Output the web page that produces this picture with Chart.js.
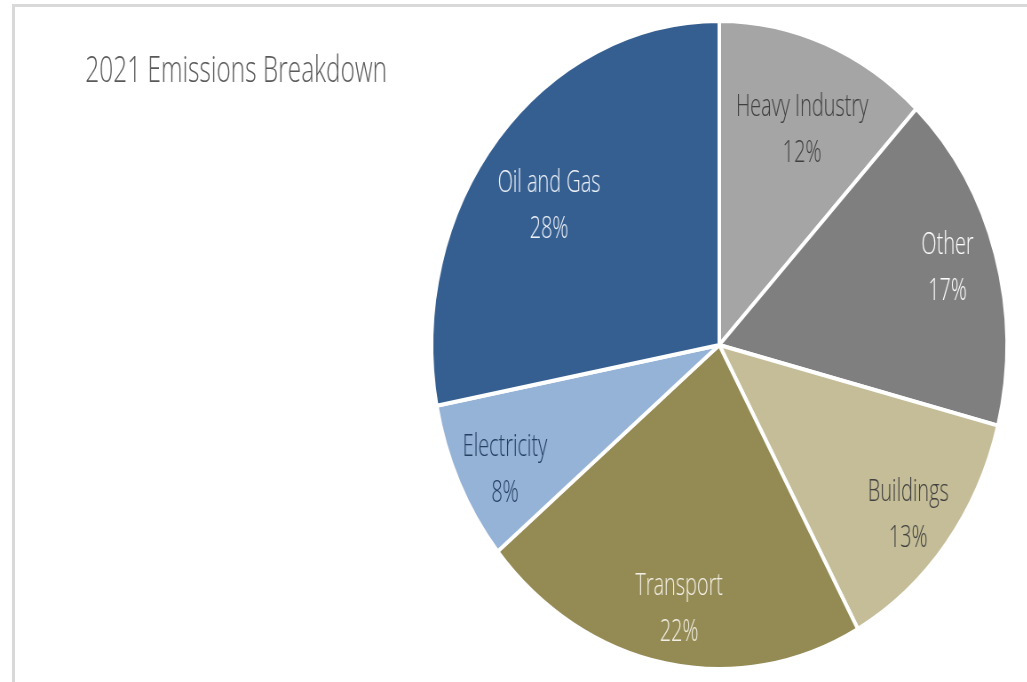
<!DOCTYPE html>
<html>
<head>
<meta charset="utf-8">
<script src="https://cdn.jsdelivr.net/npm/chart.js@4"></script>
<style>
  html, body { margin: 0; padding: 0; background: #fff; overflow: hidden; }
  #frame {
    position: absolute; left: 12px; top: 4px; width: 1100px; height: 800px;
    border-left: 3px solid #d9d9d9; border-top: 3px solid #d9d9d9;
  }
  /* the source picture is squeezed sideways, so the pie is an ellipse */
  #emissionsChart {
    position: absolute; left: 0; top: 0;
    transform: scaleX(0.888); transform-origin: 0 0;
  }
</style>
</head>
<body>
<div id="frame"></div>
<canvas id="emissionsChart" width="1157" height="682"></canvas>
<script>
const chartTitle = '2021 Emissions Breakdown';
const categories = ['Heavy Industry', 'Other', 'Buildings', 'Transport', 'Electricity', 'Oil and Gas'];
const shares = [12, 17, 13, 22, 8, 28];

const sliceColors = ['#a5a5a5', '#7f7f7f', '#c4bd97', '#948a54', '#95b3d7', '#365f91'];
const labelColors = ['#404040', '#ffffff', '#404040', '#f2efe4', '#243f60', '#eef2f7'];
// label placement: fraction of radius and a small turn (degrees) off the slice middle
const labelRadius = [0.73, 0.83, 0.836, 0.82, 0.836, 0.735];
const labelTurn = [1.6, -0.9, 0.4, -1, -1.8, -3.2];

const FONT = '"Open Sans", "Noto Sans", sans-serif';
const SQUEEZE = 0.7; // condensed look of the text
const LINE_GAP = 46;

const sliceLabels = {
    id: 'sliceLabels',
    afterDatasetsDraw(chart) {
        const ctx = chart.ctx;
        const meta = chart.getDatasetMeta(0);
        ctx.save();
        ctx.font = '300 32px ' + FONT;
        ctx.textAlign = 'center';
        ctx.textBaseline = 'alphabetic';
        meta.data.forEach((arc, i) => {
            const p = arc.getProps(['x', 'y', 'startAngle', 'endAngle', 'outerRadius'], true);
            const mid = (p.startAngle + p.endAngle) / 2 + labelTurn[i] * Math.PI / 180;
            const r = p.outerRadius * labelRadius[i];
            const cx = p.x + Math.cos(mid) * r;
            const cy = p.y + Math.sin(mid) * r;
            ctx.fillStyle = labelColors[i];
            ctx.save();
            ctx.translate(cx, cy);
            ctx.scale(SQUEEZE, 1);
            ctx.fillText(chart.data.labels[i], 0, 11.5 - LINE_GAP / 2);
            ctx.fillText(chart.data.datasets[0].data[i] + '%', 0, 11.5 + LINE_GAP / 2);
            ctx.restore();
        });
        ctx.restore();
    }
};

const titleText = {
    id: 'titleText',
    afterDraw(chart) {
        const ctx = chart.ctx;
        ctx.save();
        ctx.font = '300 36px ' + FONT;
        ctx.fillStyle = '#595959';
        ctx.textAlign = 'left';
        ctx.textBaseline = 'alphabetic';
        ctx.translate(96, 82);
        ctx.scale(0.765, 1);
        ctx.fillText(chartTitle, 0, 0);
        ctx.restore();
    }
};

const emissionsChart = new Chart(
    document.getElementById('emissionsChart'),
    {
    type: 'pie',
    options: {
        responsive: false,
        devicePixelRatio: 1,
        animation: false,
        layout: {
            padding: { left: 484, right: 21, top: 19, bottom: 11 }
        },
        plugins: {
            legend: { display: false },
            tooltip: { enabled: false },
            title: { display: false }
        }
    },
    data: {
        labels: categories,
        datasets: [{
            data: shares,
            backgroundColor: sliceColors,
            borderColor: '#ffffff',
            borderWidth: 4
        }]
    },
    plugins: [sliceLabels, titleText]
});
</script>
</body>
</html>
